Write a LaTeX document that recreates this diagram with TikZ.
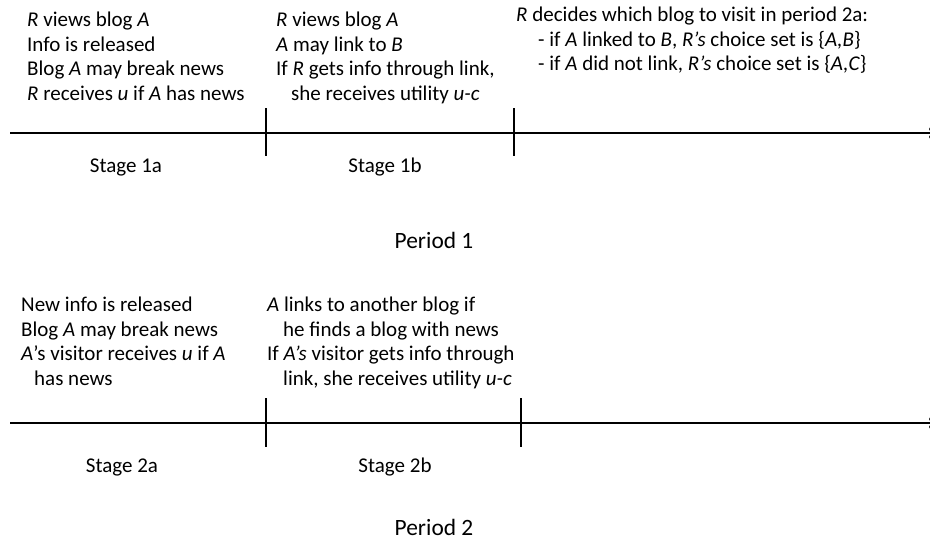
\documentclass[tikz,border=0pt]{standalone}
\usepackage{fontspec}
\setmainfont{Carlito}
\usetikzlibrary{arrows.meta}
\tikzset{
  txt/.style={anchor=base west, inner sep=0pt, font=\fontsize{21}{25}\selectfont},
  stagelbl/.style={anchor=base, inner sep=0pt, font=\fontsize{21}{25}\selectfont},
  periodlbl/.style={anchor=base, inner sep=0pt, font=\fontsize{23.4}{28}\selectfont},
  axis/.style={line width=2.4pt, -{To[length=6pt,width=11pt]}},
  tick/.style={line width=2.6pt}
}
\begin{document}
\begin{tikzpicture}[x=1pt,y=-1pt]
\useasboundingbox (0,0) rectangle (930,544);
\clip (0,0) rectangle (930,544);
% ---------- Period 1 ----------
\node[txt] (a1) at (27,26.7) {\textit{R} views blog \textit{A}};
\node[txt] (a2) at (27,51.2) {Info is released};
\node[txt] (a3) at (27,75.7) {Blog \textit{A} may break news};
\node[txt] (a4) at (27,100.2) {\textit{R} receives \textit{u} if \textit{A} has news};
\node[txt] (b1) at (276,26.7) {\textit{R} views blog \textit{A}};
\node[txt] (b2) at (276,51.2) {\textit{A} may link to \textit{B}};
\node[txt] (b3) at (276,75.7) {If \textit{R} gets info through link,};
\node[txt] (b4) at (291,100.2) {she receives utility \textit{u-c}};
\node[txt] (c1) at (516,21.5) {\textit{R} decides which blog to visit in period 2a:};
\node[txt] (c2) at (538,46) {- if \textit{A} linked to \textit{B}, \textit{R’s} choice set is \{\textit{A,B}\}};
\node[txt] (c3) at (538,70.5) {- if \textit{A} did not link, \textit{R’s} choice set is \{\textit{A,C}\}};
\coordinate (s1) at (10,133);
\coordinate (e1) at (935,133);
\draw[axis] (s1) -- (e1);
\coordinate (p1t) at (266,108); \coordinate (p1b) at (266,156);
\coordinate (q1t) at (514,108); \coordinate (q1b) at (514,156);
\draw[tick] (p1t) -- (p1b);
\draw[tick] (q1t) -- (q1b);
\node[stagelbl] (st1a) at (126,172) {Stage 1a};
\node[stagelbl] (st1b) at (385,172) {Stage 1b};
\node[periodlbl] (per1) at (434,248) {Period 1};
% ---------- Period 2 ----------
\node[txt] (d1) at (21,311.7) {New info is released};
\node[txt] (d2) at (21,336.2) {Blog \textit{A} may break news};
\node[txt] (d3) at (21,360.7) {\textit{A}’s visitor receives \textit{u} if \textit{A}};
\node[txt] (d4) at (34,385.2) {has news};
\node[txt] (f1) at (267,311.7) {\textit{A} links to another blog if};
\node[txt] (f2) at (283,336.2) {he finds a blog with news};
\node[txt] (f3) at (267,360.7) {If \textit{A’s} visitor gets info through};
\node[txt] (f4) at (283,385.2) {link, she receives utility \textit{u-c}};
\coordinate (s2) at (10,423);
\coordinate (e2) at (935,423);
\draw[axis] (s2) -- (e2);
\coordinate (p2t) at (266,398); \coordinate (p2b) at (266,447);
\coordinate (q2t) at (521,398); \coordinate (q2b) at (521,447);
\draw[tick] (p2t) -- (p2b);
\draw[tick] (q2t) -- (q2b);
\node[stagelbl] (st2a) at (122,472) {Stage 2a};
\node[stagelbl] (st2b) at (395,472) {Stage 2b};
\node[periodlbl] (per2) at (434,535) {Period 2};
\end{tikzpicture}
\end{document}
